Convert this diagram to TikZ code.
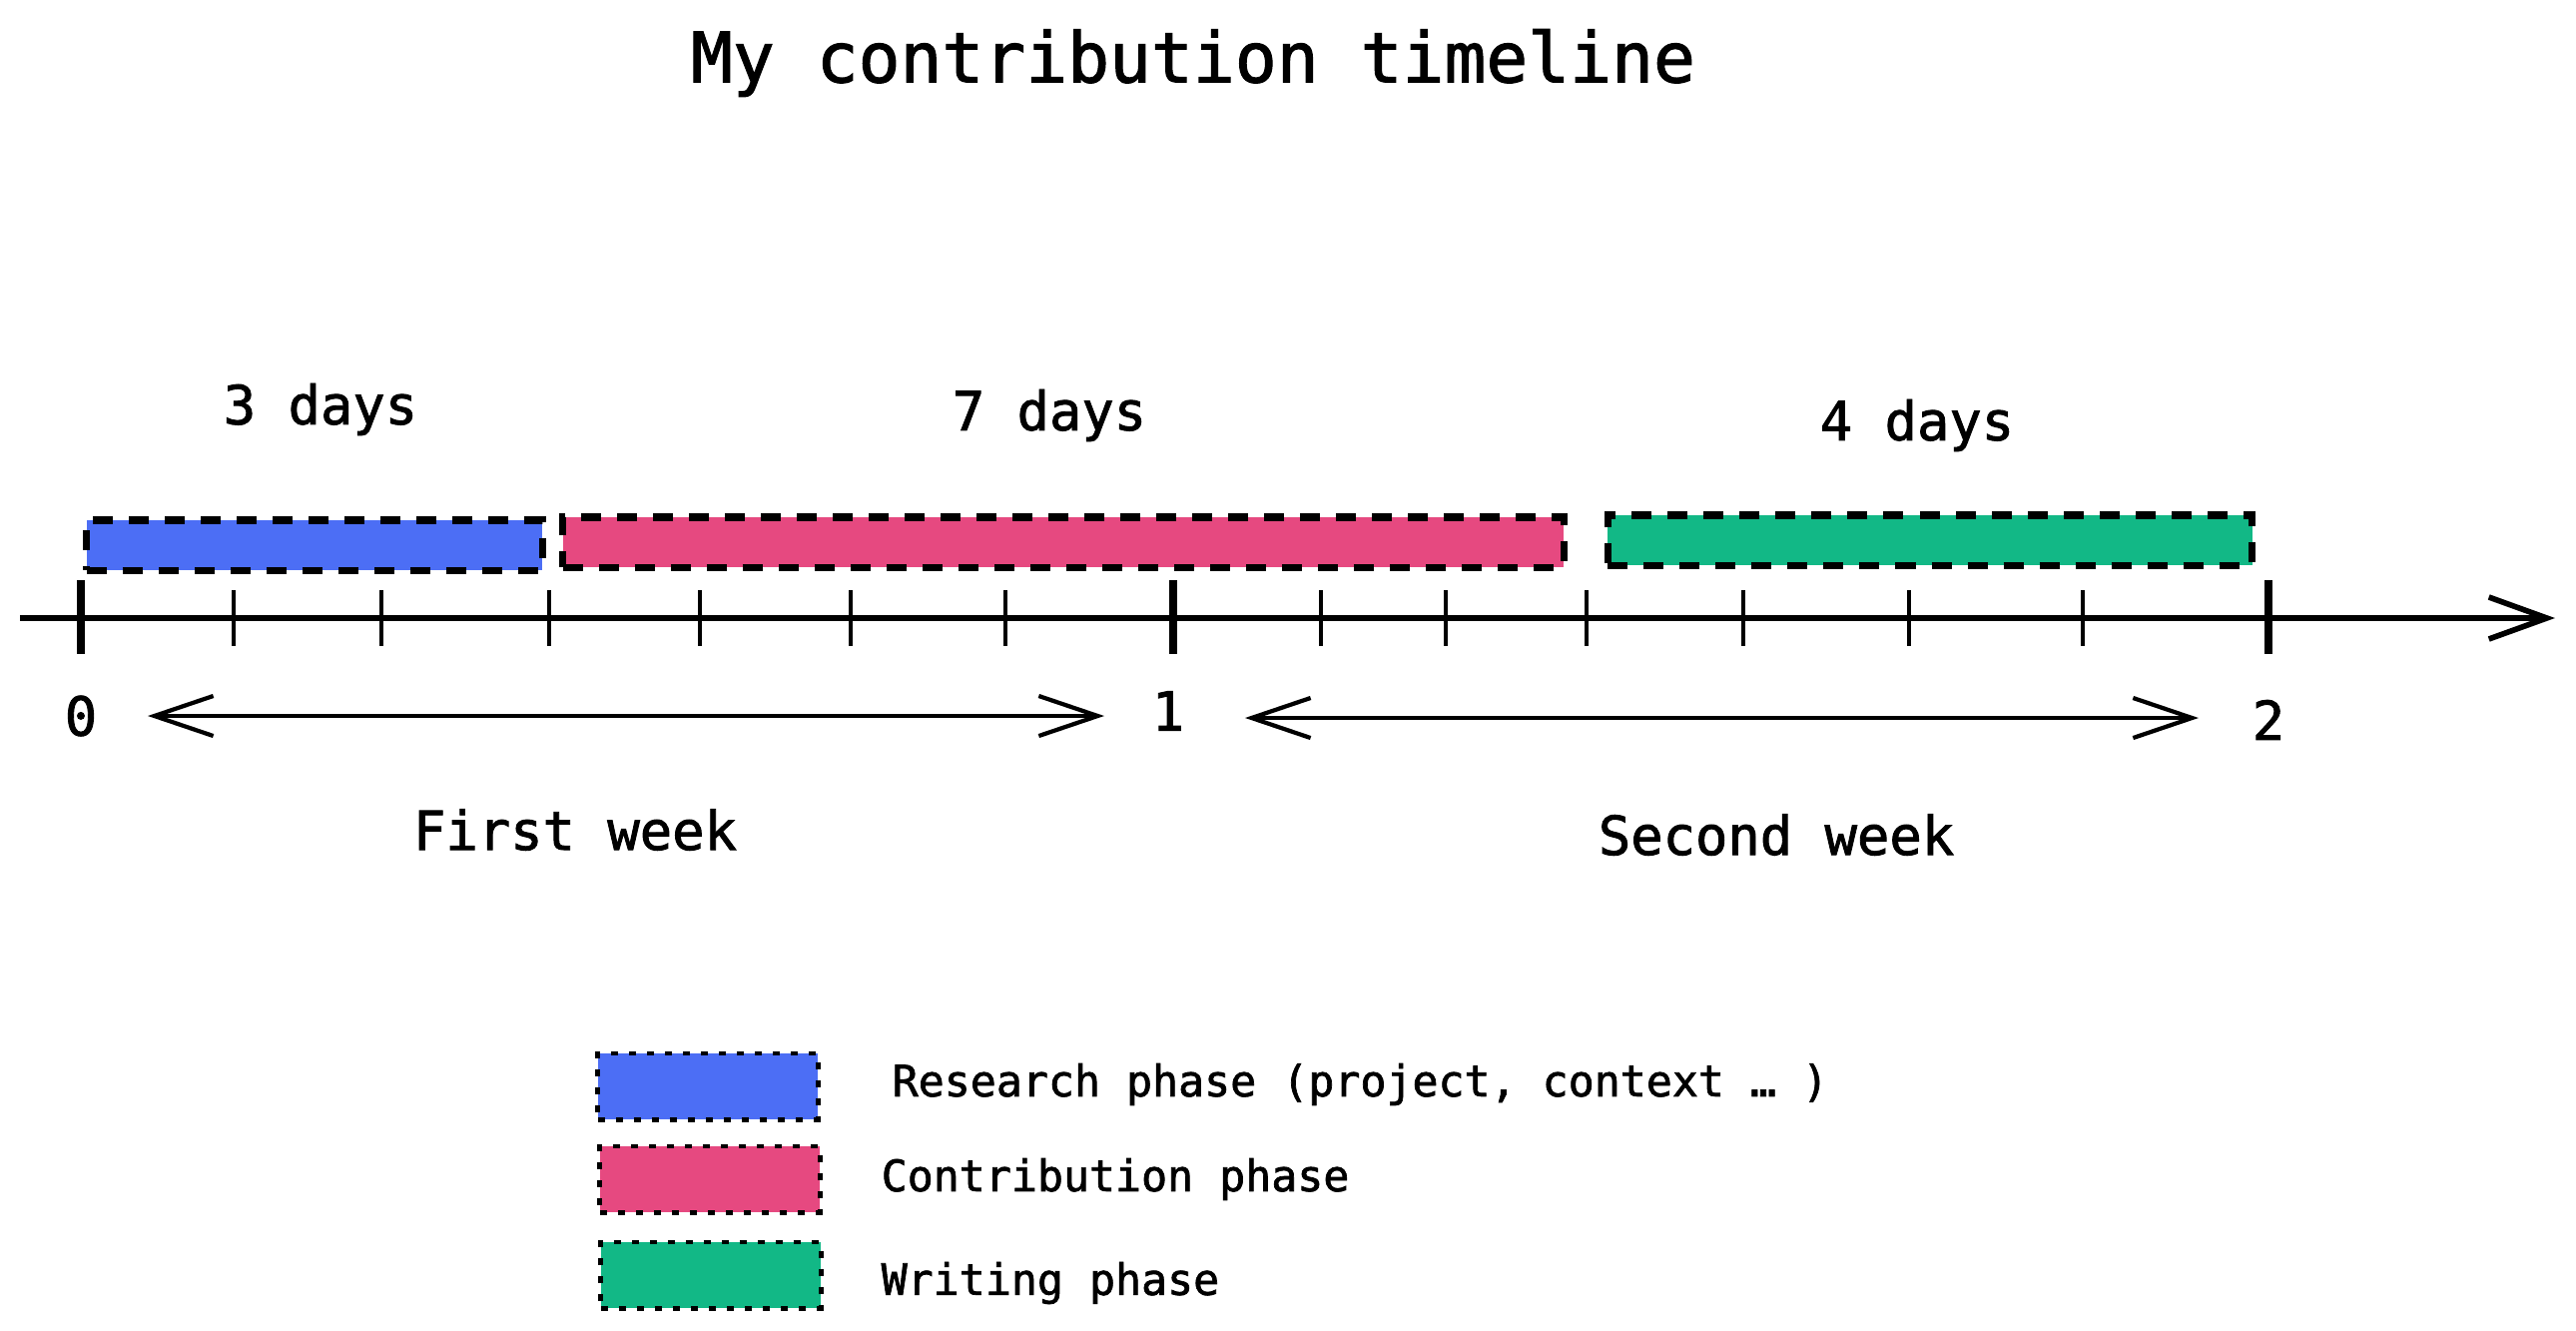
\documentclass[tikz,border=0pt]{standalone}
\usepackage{fontspec}
\setmainfont{DejaVu Sans Mono}[FakeBold=1.6]
\usepackage{tikz}
\usetikzlibrary{arrows.meta,positioning}
\definecolor{rescol}{HTML}{4C6EF5}
\definecolor{concol}{HTML}{E64980}
\definecolor{wricol}{HTML}{12B886}

\begin{document}
\begin{tikzpicture}[
  x=0.01cm, y=-0.01cm,
  bar/.style={draw, line width=2pt, dash pattern=on 2mm off 1.6mm, inner sep=0pt, minimum height=5mm},
  key/.style={draw, line width=1.4pt, dash pattern=on 0.7mm off 1.1mm, inner sep=0pt, minimum width=2.2cm, minimum height=6.6mm},
  lbl/.style={font=\fontsize{15.3}{18}\selectfont},
  keytxt/.style={font=\fontsize{12.3}{15}\selectfont, anchor=west, inner sep=0pt},
  minor/.style={line width=0.9pt},
  major/.style={line width=2.4pt},
  span/.style={{Straight Barb[length=5.9mm,width=4mm]}-{Straight Barb[length=5.9mm,width=4mm]}, line width=1.2pt}
]
  \useasboundingbox (0,0) rectangle (2580,1332);

  % title
  \node[font=\fontsize{19.8}{24}\selectfont] (title) at (1195,63) {My contribution timeline};

  % bars
  \node[bar, fill=rescol, minimum width=4.56cm] (res) at (315,546) {};
  \node[bar, fill=concol, minimum width=10.02cm] (con) at (1065,543) {};
  \node[bar, fill=wricol, minimum width=6.45cm] (wri) at (1933,541) {};
  \node[lbl] (resdays) at (321,410) {3 days};
  \node[lbl] (condays) at (1051,416) {7 days};
  \node[lbl] (wridays) at (1920,426) {4 days};

  % axis
  \coordinate (axstart) at (20,619);
  \coordinate (axend) at (2559,619);
  \draw[line width=1.6pt, -{Straight Barb[length=5.8mm,width=4.2mm]}] (axstart) -- (axend);
  \foreach \x in {234,382,550,701,852,1007,1323,1448,1589,1746,1912,2086}
    \draw[minor] (\x,591) -- (\x,647);
  \foreach \x in {81,1175,2272}
    \draw[major] (\x,581) -- (\x,655);
  \node[lbl] (zero) at (81,717) {0};
  \node[lbl] (one) at (1170,712) {1};
  \node[lbl] (two) at (2272,721) {2};

  % weeks
  \coordinate (w1a) at (148,717);
  \coordinate (w1b) at (1106,717);
  \coordinate (w2a) at (1247,719);
  \coordinate (w2b) at (2202,719);
  \draw[span] (w1a) -- (w1b);
  \draw[span] (w2a) -- (w2b);
  \node[lbl] (week1) at (576,831) {First week};
  \node[lbl] (week2) at (1779,836) {Second week};

  % legend
  \node[key, fill=rescol] (keyres) at (709,1088) {};
  \node[key, fill=concol] (keycon) at (711,1181) {};
  \node[key, fill=wricol] (keywri) at (712,1277) {};
  \node[keytxt] (txtres) at (893,1086) {Research phase (project, context … )};
  \node[keytxt] (txtcon) at (882,1181) {Contribution phase};
  \node[keytxt] (txtwri) at (882,1285) {Writing phase};
\end{tikzpicture}
\end{document}
